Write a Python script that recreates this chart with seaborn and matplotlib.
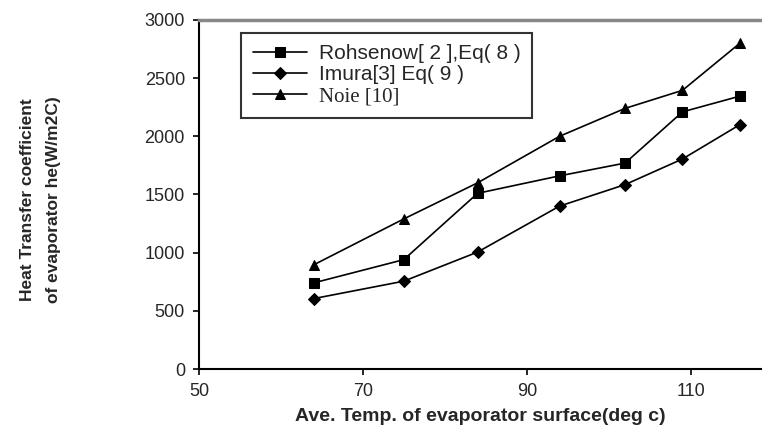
import pandas as pd
import numpy as np
import matplotlib
matplotlib.use("Agg")
import matplotlib.pyplot as plt
import seaborn as sns

# data
temps = [64, 75, 84, 94, 102, 109, 116]
rohsenow = [740, 940, 1510, 1660, 1770, 2210, 2345]
imura = [605, 755, 1005, 1400, 1585, 1805, 2100]
noie = [895, 1290, 1600, 2000, 2240, 2395, 2800]
series_names = ["Rohsenow[ 2 ],Eq( 8 )", "Imura[3] Eq( 9 )", "Noie [10]"]
x_ticks = [50, 70, 90, 110]
y_ticks = [0, 500, 1000, 1500, 2000, 2500, 3000]

sns.set_style("white")
plt.rcParams['font.family'] = ['Liberation Sans', 'DejaVu Sans']

fig = plt.figure(figsize=(7.62, 4.43), dpi=100)
ax = fig.add_axes([0.261, 0.167, 0.739, 0.788])

markers = ['s', 'D', '^']
sizes = [7.5, 6.5, 7.5]
for name, vals, mk, ms in zip(series_names, [rohsenow, imura, noie], markers, sizes):
    df = pd.DataFrame({'temp': temps, 'h': vals})
    sns.lineplot(data=df, x='temp', y='h', ax=ax, color='black', lw=1.2,
                 marker=mk, markersize=ms, markeredgecolor='black', label=name)

ax.set_xlim(50, 118.7)
ax.set_ylim(0, 3000)
ax.set_xticks(x_ticks)
ax.set_yticks(y_ticks)
ax.tick_params(axis='both', labelsize=13, direction='out', length=4,
               width=1.2, color='black', bottom=True, left=True, pad=6)

for side in ['left', 'bottom']:
    ax.spines[side].set_color('black')
    ax.spines[side].set_linewidth(1.5)
ax.spines['right'].set_visible(False)
ax.spines['top'].set_color('#888888')
ax.spines['top'].set_linewidth(2.5)

ax.set_xlabel('Ave. Temp. of evaporator surface(deg c)', fontsize=14,
              fontweight='bold', labelpad=6)
ax.set_ylabel('')
fig.text(0.053, 0.55, 'Heat Transfer coefficient\nof evaporator he(W/m2C)',
         rotation=90, ha='center', va='center', multialignment='center',
         fontsize=12.5, fontweight='bold', linespacing=1.9)

leg = ax.legend(loc='upper left', bbox_to_anchor=(0.075, 0.963), fontsize=15,
                frameon=True, fancybox=False, handlelength=2.6, labelspacing=0.1,
                borderpad=0.55, handletextpad=0.6, borderaxespad=0)
leg.get_frame().set_edgecolor('black')
leg.get_frame().set_linewidth(1.5)
leg.get_texts()[2].set_family(['Liberation Serif', 'DejaVu Serif'])

fig.savefig('out.png', dpi=100)
